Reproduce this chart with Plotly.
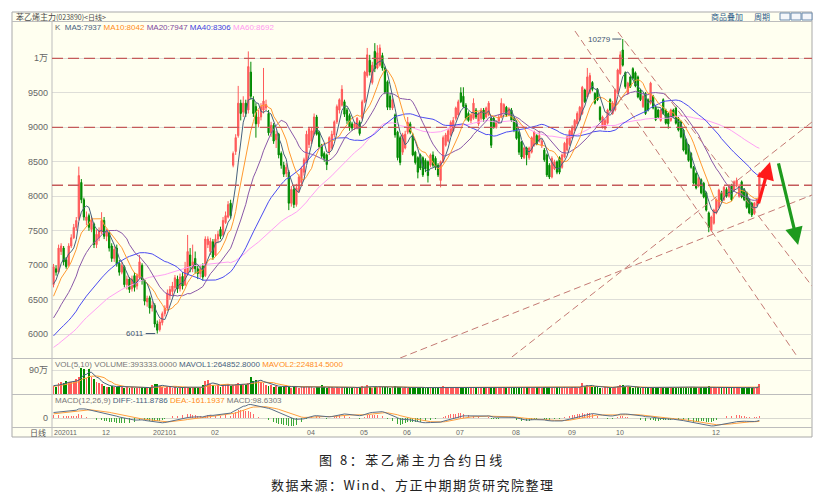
import numpy as np
import pandas as pd
import plotly.graph_objects as go

# ---------------- data ----------------
OPEN = [
6720, 6950, 6900, 7200, 7250, 7080, 7000, 7280, 7400, 7550,
7680, 8200, 7950, 7650, 7720, 7520, 7600, 7300, 7400, 7480,
7650, 7420, 7470, 7280, 7100, 7250, 7030, 6900, 6980, 6720,
6800, 6660, 6850, 6700, 6820, 7000, 6780, 6470, 6530, 6380,
6420, 6150, 6070, 6170, 6300, 6380, 6560, 6620, 6680, 6800,
6660, 6840, 6720, 6880, 7150, 6950, 7100, 6950, 6880, 6990,
6850, 7300, 7200, 7340, 7150, 7380, 7520, 7440, 7620, 7700,
7900, 8450, 8650, 8880, 9350, 9220, 9350, 9250, 9800, 9400,
9300, 9050, 9150, 9250, 9280, 9200, 8920, 9030, 8820, 8900,
8620, 8450, 8330, 8350, 7900, 8100, 7880, 8080, 8200, 8350,
8500, 8750, 8800, 8900, 9150, 8930, 8740, 8620, 8600, 8640,
8700, 8890, 9080, 9250, 9320, 9370, 9250, 9170, 9050, 8990,
8990, 9070, 9130, 9370, 9750, 9970, 9650, 10100, 9860, 9900,
10040, 9860, 9660, 9450, 9280, 9180, 8930, 8850, 8640, 8700,
8930, 9050, 8890, 8640, 8560, 8600, 8560, 8520, 8500, 8450,
8600, 8550, 8450, 8230, 8500, 8740, 8800, 8890, 8950, 9130,
9180, 9500, 9450, 9320, 9200, 9100, 9130, 9250, 9050, 9130,
9250, 9150, 9180, 9130, 9130, 9000, 9080, 9150, 9220, 9290,
9180, 9250, 9130, 9080, 8930, 8790, 8560, 8700, 8560, 8640,
8740, 8880, 8800, 8730, 8670, 8600, 8450, 8280, 8400, 8500,
8560, 8420, 8570, 8670, 8750, 8850, 8960, 9050, 9110, 9200,
9540, 9440, 9500, 9650, 9490, 9550, 9290, 9000, 8980, 9060,
9400, 9200, 9250, 9500, 9780, 10120, 9790, 9490, 9730, 9850,
9790, 9730, 9540, 9300, 9490, 9400, 9350, 9450, 9290, 9250,
9100, 9400, 9250, 9200, 9100, 9250, 9280, 9130, 9080, 8960,
8820, 8740, 8620, 8420, 8330, 8150, 8240, 8190, 8050, 7760,
7510, 7610, 7760, 7840, 8050, 7950, 8100, 8000, 8150, 8090,
8150, 8000, 8210, 8100, 8050, 7950, 7900, 7750, 7870, 7990,
]
HIGH = [
7020, 7000, 7300, 7320, 7280, 7120, 7320, 7450, 7600, 7700,
8430, 8250, 7980, 7780, 7750, 7700, 7620, 7520, 7550, 7770,
7700, 7530, 7500, 7320, 7280, 7300, 7080, 7050, 7000, 6850,
6830, 6850, 6900, 6880, 7150, 7030, 6800, 6560, 6560, 6480,
6450, 6200, 6220, 6330, 6420, 6650, 6700, 6760, 6860, 6850,
6880, 6900, 7050, 7440, 7250, 7300, 7200, 7000, 7000, 7030,
7420, 7420, 7400, 7380, 7450, 7500, 7560, 7700, 7780, 7930,
7950, 8650, 8900, 9600, 9400, 9450, 9400, 10100, 9950, 9450,
9350, 9250, 9350, 9860, 9400, 9250, 9080, 9060, 8950, 8920,
8650, 8500, 8480, 8380, 8150, 8150, 8180, 8320, 8430, 8560,
8950, 9000, 9000, 9200, 9180, 8950, 8760, 8650, 8620, 8870,
8950, 9100, 9330, 9420, 9610, 9400, 9280, 9200, 9080, 9080,
9150, 9100, 9400, 9820, 10150, 10050, 9950, 10220, 10190, 10200,
10080, 9880, 9680, 9480, 9420, 9200, 8950, 8880, 8920, 8950,
9150, 9080, 8920, 8660, 8580, 8620, 8580, 8550, 8520, 8620,
8650, 8580, 8480, 8520, 8880, 8920, 8980, 9100, 9150, 9300,
9400, 9580, 9580, 9350, 9230, 9200, 9420, 9280, 9220, 9280,
9280, 9300, 9380, 9150, 9150, 9100, 9180, 9420, 9350, 9310,
9290, 9280, 9150, 9100, 8950, 8800, 8720, 8720, 8720, 8870,
8950, 8900, 8950, 8830, 8700, 8620, 8480, 8580, 8530, 8520,
8580, 8620, 8790, 8880, 8970, 9030, 9120, 9230, 9310, 9600,
9560, 9860, 9790, 9670, 9510, 9570, 9310, 9170, 9120, 9270,
9420, 9380, 9560, 9850, 10100, 10279, 9810, 9660, 9750, 9870,
9810, 9750, 9560, 9470, 9510, 9420, 9660, 9470, 9310, 9270,
9270, 9420, 9270, 9220, 9270, 9270, 9300, 9150, 9100, 8980,
8840, 8760, 8640, 8440, 8350, 8280, 8260, 8210, 8070, 7780,
7720, 7820, 7970, 8110, 8080, 8150, 8130, 8170, 8180, 8230,
8270, 8180, 8230, 8120, 8070, 7970, 7920, 7920, 7970, 8350,
]
LOW = [
6680, 6850, 6880, 7150, 7000, 6950, 6980, 7250, 7380, 7500,
7650, 7900, 7650, 7580, 7500, 7480, 7250, 7250, 7350, 7450,
7380, 7350, 7200, 7050, 7050, 6980, 6850, 6870, 6680, 6650,
6600, 6620, 6620, 6650, 6800, 6720, 6420, 6400, 6300, 6330,
6100, 6011, 6040, 6130, 6260, 6350, 6500, 6560, 6620, 6600,
6620, 6650, 6700, 6850, 6900, 6900, 6880, 6800, 6820, 6780,
6830, 7250, 7150, 7080, 7130, 7320, 7380, 7420, 7600, 7680,
7680, 8420, 8600, 8850, 9100, 9150, 9150, 9200, 9400, 9150,
8850, 9000, 9100, 9200, 9250, 8880, 8860, 8760, 8700, 8550,
8400, 8280, 8280, 7800, 7850, 7830, 7850, 8050, 8160, 8300,
8480, 8700, 8750, 8880, 8880, 8700, 8550, 8500, 8380, 8600,
8680, 8850, 9050, 9200, 9300, 9150, 9050, 8950, 8950, 8960,
8970, 8880, 9100, 9350, 9720, 9750, 9620, 9800, 9840, 9880,
9820, 9480, 9250, 9250, 9250, 8850, 8520, 8450, 8600, 8680,
8900, 8900, 8580, 8460, 8260, 8380, 8280, 8350, 8200, 8420,
8420, 8380, 8280, 8130, 8480, 8720, 8780, 8870, 8930, 9100,
9150, 9350, 9280, 9100, 9080, 9060, 9110, 9120, 9020, 9100,
9080, 9130, 9160, 8700, 8980, 8980, 9050, 9130, 9200, 9150,
9160, 9080, 8930, 8820, 8600, 8540, 8540, 8450, 8530, 8620,
8720, 8740, 8780, 8700, 8500, 8280, 8250, 8260, 8380, 8320,
8320, 8400, 8550, 8650, 8730, 8830, 8940, 9020, 9090, 9180,
9350, 9420, 9480, 9520, 9330, 9380, 9080, 8980, 8960, 9040,
9230, 9180, 9230, 9480, 9760, 9880, 9560, 9470, 9570, 9690,
9580, 9420, 9380, 9280, 9180, 9230, 9330, 9260, 9090, 9130,
9080, 9180, 9040, 8980, 9080, 9130, 9040, 8940, 8840, 8650,
8600, 8500, 8400, 8170, 8100, 8130, 8030, 7970, 7780, 7480,
7490, 7590, 7740, 7820, 7930, 7930, 7980, 7980, 7930, 8070,
8130, 7980, 7970, 7930, 7820, 7740, 7700, 7730, 7850, 7970,
]
CLOSE = [
6980, 6900, 7250, 7280, 7050, 6980, 7280, 7400, 7550, 7650,
8300, 7950, 7700, 7700, 7550, 7650, 7300, 7450, 7500, 7650,
7420, 7480, 7250, 7100, 7230, 7020, 6900, 7000, 6720, 6800,
6650, 6800, 6680, 6850, 7050, 6780, 6480, 6520, 6380, 6420,
6150, 6060, 6180, 6300, 6380, 6600, 6650, 6700, 6820, 6660,
6830, 6700, 6960, 7200, 6980, 7050, 6950, 6880, 6950, 6830,
7380, 7380, 7350, 7120, 7380, 7450, 7420, 7650, 7720, 7880,
7720, 8620, 8850, 9350, 9200, 9350, 9200, 9880, 9450, 9200,
9050, 9150, 9300, 9380, 9330, 8920, 9030, 8800, 8900, 8600,
8450, 8320, 8420, 7900, 8100, 7880, 8120, 8280, 8400, 8530,
8900, 8980, 8950, 9150, 8900, 8720, 8580, 8550, 8460, 8850,
8900, 9080, 9300, 9400, 9550, 9190, 9100, 8990, 8990, 9050,
9130, 8910, 9370, 9800, 10050, 9800, 9900, 9850, 10080, 10150,
9860, 9510, 9290, 9290, 9400, 8890, 8560, 8490, 8890, 8900,
9070, 8930, 8600, 8490, 8350, 8410, 8310, 8400, 8300, 8600,
8450, 8420, 8310, 8500, 8850, 8890, 8950, 9070, 9100, 9280,
9370, 9370, 9300, 9130, 9100, 9180, 9350, 9150, 9200, 9250,
9120, 9280, 9350, 8740, 9000, 9080, 9150, 9350, 9330, 9180,
9270, 9100, 8960, 8840, 8640, 8570, 8700, 8600, 8700, 8850,
8930, 8760, 8880, 8800, 8530, 8310, 8280, 8550, 8500, 8350,
8350, 8600, 8770, 8860, 8950, 9000, 9100, 9200, 9290, 9580,
9370, 9730, 9750, 9550, 9350, 9400, 9110, 9150, 9100, 9250,
9250, 9350, 9540, 9830, 10050, 9900, 9590, 9640, 9590, 9710,
9600, 9440, 9400, 9450, 9200, 9250, 9640, 9280, 9110, 9150,
9250, 9200, 9060, 9050, 9250, 9150, 9060, 8960, 8860, 8670,
8620, 8520, 8420, 8190, 8120, 8260, 8050, 7990, 7800, 7550,
7700, 7800, 7950, 8090, 7950, 8130, 8000, 8150, 7950, 8210,
8230, 8150, 7990, 7950, 7840, 7760, 7730, 7900, 7950, 8330,
]
# volume in 万手
VOLUME_WAN = [
30, 28,
42, 45, 40, 48, 44, 46, 50, 55,
64,
97, 92,
60,
95,
62, 55,
45, 40, 38,
30, 28, 27, 30, 26, 28, 29,
25, 24, 26, 23, 25, 22, 24, 27, 25, 24, 22, 23,
32, 36, 38, 30,
26, 24, 28, 25, 23, 27, 24, 22, 25, 28, 26,
24, 22, 25, 23, 24,
34, 50, 53, 36, 33,
30, 32, 28, 35, 33, 36, 30, 34, 38, 40, 36, 35, 33,
42, 64,
50, 52, 48, 45, 40,
35, 30, 32, 28, 30,
27, 25, 28, 35, 26, 24, 27, 25, 23, 28, 26, 30,
25, 27, 24, 26, 28, 32, 25, 23, 27, 26, 24, 25,
23, 26, 28, 25, 24, 22, 26, 25, 27, 30, 28, 33,
26, 24, 28, 25, 30, 27, 26, 28, 24, 26, 29, 27,
25, 24, 26, 23, 25, 27, 24, 22, 26, 25, 23, 24,
26, 24, 25, 23, 27, 30, 26, 24, 25, 27, 24, 23,
28, 26, 25, 24, 23, 25, 24, 22, 26, 24, 25, 23,
27, 25, 24, 26, 23, 25, 24, 26, 25, 27, 24, 28,
26, 24, 25, 27, 23, 24, 26, 25, 23, 27, 28, 25,
24, 23, 25, 26, 24, 25, 23, 24, 26, 25, 24, 27,
42, 30, 35, 28, 26, 27, 25, 24, 23, 25, 26, 24,
25, 27, 30, 32, 35, 28, 26, 25, 24, 26, 25, 24,
23, 25, 27, 24, 23, 22, 25, 24, 26, 23, 24, 25,
26, 24, 25, 27, 28, 25, 24, 26, 27, 25, 24, 26,
25, 27, 30, 26, 25, 24, 27, 25, 24, 26, 23, 25,
24, 26, 25, 23, 24, 22, 25, 24, 23, 26, 39.3333,
]
# closes / volumes before the first visible day (needed for the moving averages)
PRE_CLOSE = [
5450,
5500, 5470, 5420, 5380, 5400, 5450, 5480, 5520, 5560, 5530,
5490, 5460, 5440, 5470, 5500, 5520, 5480, 5450, 5500, 5510,
5550, 5600, 5640, 5680, 5660, 5700, 5720, 5690, 5730, 5760,
5740, 5710, 5750, 5780, 5760, 5720, 5740, 5770, 5800, 5830,
5850, 5880, 5900, 5870, 5910, 5940, 5960, 5930, 5980, 6020,
6150, 6280, 6380, 6480, 6570, 6620, 6700, 6650, 6710,
]
PRE_VOLUME_WAN = [22, 25, 24, 28, 30, 27, 32, 35, 33]

DATE_TICK_IDX = [0, 19, 39, 62, 100, 121, 138, 159, 181, 203, 222, 260]
DATE_TICK_TEXT = ["202011", "12", "202101", "02", "04", "05", "06", "07", "08", "09", "10", "12"]
PRICE_TICKS = [6000, 6500, 7000, 7500, 8000, 8500, 9000, 9500, 10000]
PRICE_TICK_TEXT = ["6000", "6500", "7000", "7500", "8000", "8500", "9000", "9500", "1万"]
LEVELS = [10000, 9000, 8160]
TREND_LINES = [
    ((206.1, 10396), (294.3, 5659)),
    ((223.1, 10381), (299.8, 6699)),
    ((181.2, 5672), (299.8, 9077)),
    ((137.0, 5657), (299.8, 8019)),
]
UP_ARROW = ((278.5, 7875), (283.2, 8498))
DOWN_ARROW = ((286.4, 8498), (294.3, 7295))
HIGH_LABEL = (225, 10279)
LOW_LABEL = (41, 6011)

n = len(CLOSE)
for name, arr in [("OPEN", OPEN), ("HIGH", HIGH), ("LOW", LOW), ("VOLUME_WAN", VOLUME_WAN)]:
    if len(arr) != n:
        raise ValueError(f"{name} has {len(arr)} values, CLOSE has {n}")

# ---------------- derived indicators ----------------
idx = np.arange(n)
pre_n = len(PRE_CLOSE)
all_close = pd.Series(PRE_CLOSE + CLOSE, dtype=float)
ma = {k: all_close.rolling(k).mean().iloc[pre_n:].to_numpy() for k in (5, 10, 20, 40, 60)}
ema12 = all_close.ewm(span=12, adjust=False).mean()
ema26 = all_close.ewm(span=26, adjust=False).mean()
diff = ema12 - ema26
dea = diff.ewm(span=9, adjust=False).mean()
hist = 2 * (diff - dea)
diff_v = diff.iloc[pre_n:].to_numpy()
dea_v = dea.iloc[pre_n:].to_numpy()
hist_v = hist.iloc[pre_n:].to_numpy()

vol = np.array(VOLUME_WAN, dtype=float) * 1e4
all_vol = pd.Series(list(np.array(PRE_VOLUME_WAN) * 1e4) + list(vol))
pv = len(PRE_VOLUME_WAN)
mavol5 = all_vol.rolling(5).mean().iloc[pv:].to_numpy()
mavol10 = all_vol.rolling(10).mean().iloc[pv:].to_numpy()

up = np.array(CLOSE) >= np.array(OPEN)

# ---------------- styling ----------------
BG = "#FFFFF0"
RED = "#FF5A5A"
GREEN = "#008A00"
C_MA5 = "#46617E"
C_MA10 = "#FF9A30"
C_MA20 = "#8A58A8"
C_MA40 = "#4B4BF0"
C_MA60 = "#FFA0F5"
NUMF = "Liberation Sans, Noto Sans CJK SC"
CJK = "Noto Sans CJK SC"

W, H = 816, 495
L, R, T, B = 52, 812, 22, 427


def PX(x):
    return (x - L) / (R - L)


def PY(y):
    return (B - y) / (B - T)


fig = go.Figure()

fig.add_trace(go.Candlestick(
    x=idx, open=OPEN, high=HIGH, low=LOW, close=CLOSE,
    increasing=dict(line=dict(color=RED, width=1), fillcolor=RED),
    decreasing=dict(line=dict(color=GREEN, width=1), fillcolor=GREEN),
    whiskerwidth=0, hoverinfo="skip", showlegend=False, xaxis="x", yaxis="y"))

for k, c in [(60, C_MA60), (40, C_MA40), (20, C_MA20), (10, C_MA10), (5, C_MA5)]:
    fig.add_trace(go.Scatter(x=idx, y=ma[k], mode="lines", line=dict(color=c, width=1),
                             hoverinfo="skip", showlegend=False, xaxis="x", yaxis="y"))

fig.add_trace(go.Bar(x=idx, y=vol, marker=dict(color=np.where(up, RED, GREEN), line=dict(width=0)),
                     width=0.72, hoverinfo="skip", showlegend=False, xaxis="x", yaxis="y2"))
fig.add_trace(go.Scatter(x=idx, y=mavol10, mode="lines", line=dict(color=C_MA10, width=1),
                         hoverinfo="skip", showlegend=False, xaxis="x", yaxis="y2"))
fig.add_trace(go.Scatter(x=idx, y=mavol5, mode="lines", line=dict(color=C_MA5, width=1),
                         hoverinfo="skip", showlegend=False, xaxis="x", yaxis="y2"))

fig.add_trace(go.Bar(x=idx, y=hist_v, marker=dict(color=np.where(hist_v >= 0, "#FF6A6A", "#3AA83A"), line=dict(width=0)),
                     width=0.3, hoverinfo="skip", showlegend=False, xaxis="x", yaxis="y3"))
fig.add_trace(go.Scatter(x=idx, y=dea_v, mode="lines", line=dict(color="#FFA040", width=1),
                         hoverinfo="skip", showlegend=False, xaxis="x", yaxis="y3"))
fig.add_trace(go.Scatter(x=idx, y=diff_v, mode="lines", line=dict(color="#5A6E88", width=1),
                         hoverinfo="skip", showlegend=False, xaxis="x", yaxis="y3"))

peak = float(max(diff_v.max(), dea_v.max(), hist_v.max()))
m_hi = peak * 24 / 13.5
m_lo = -m_hi * 9 / 24

shapes = []
# outer frame and separators
shapes.append(dict(type="rect", xref="paper", yref="paper", x0=PX(12), x1=PX(812), y0=PY(437), y1=PY(12),
                   fillcolor=BG, line=dict(color="#A9A9A9", width=1), layer="below"))
for yy in (21.5, 358.5, 394.5, 427.5):
    shapes.append(dict(type="line", xref="paper", yref="paper", x0=PX(12), x1=PX(812), y0=PY(yy), y1=PY(yy),
                       line=dict(color="#BDBDBD", width=1), layer="above"))
shapes.append(dict(type="line", xref="paper", yref="paper", x0=PX(52), x1=PX(52), y0=PY(21.5), y1=PY(437),
                   line=dict(color="#BDBDBD", width=1), layer="above"))
# header buttons
for bx in ((780, 790), (791, 801), (802, 812)):
    shapes.append(dict(type="rect", xref="paper", yref="paper", x0=PX(bx[0]), x1=PX(bx[1]), y0=PY(20), y1=PY(13),
                       line=dict(color="#6C8CB0", width=1), fillcolor="#F4F6FA"))
# horizontal key levels
for lv in LEVELS:
    shapes.append(dict(type="line", xref="paper", yref="y", x0=0, x1=1, y0=lv, y1=lv,
                       line=dict(color="#C45A5A", width=1.3, dash="11px,5px")))
# trend lines
for (x0, y0), (x1, y1) in TREND_LINES:
    shapes.append(dict(type="line", xref="x", yref="y", x0=x0, y0=y0, x1=x1, y1=y1,
                       line=dict(color="#C47A74", width=1, dash="7px,4px")))

ann = []


def span(t, c):
    return f"<span style='color:{c}'>{t}</span>"


ann.append(dict(xref="paper", yref="paper", x=PX(14), y=PY(16.5), xanchor="left", yanchor="middle",
                text="苯乙烯主力<span style='font-size:7px'>(023890)&lt;日线&gt;</span>", showarrow=False,
                font=dict(family=CJK, size=8, color="#4A4A4A")))
ann.append(dict(xref="paper", yref="paper", x=PX(709), y=PY(16.5), xanchor="left", yanchor="middle",
                text="商品叠加", showarrow=False, font=dict(family=CJK, size=8, color="#2E5C8A")))
ann.append(dict(xref="paper", yref="paper", x=PX(752), y=PY(16.5), xanchor="left", yanchor="middle",
                text="周期", showarrow=False, font=dict(family=CJK, size=8, color="#2E5C8A")))
ann.append(dict(xref="paper", yref="paper", x=PX(53), y=PY(27.5), xanchor="left", yanchor="middle",
                text=span("K", "#666666") + "  " + span("MA5:7937", C_MA5) + " " + span("MA10:8042", "#FF8C1A")
                + " " + span("MA20:7947", "#7E4A9E") + " " + span("MA40:8306", "#4040E0") + " "
                + span("MA60:8692", "#FF99F0"),
                showarrow=False, font=dict(family=NUMF, size=8)))
ann.append(dict(xref="paper", yref="paper", x=PX(53), y=PY(364), xanchor="left", yanchor="middle",
                text=span("VOL(5,10)", "#777777") + " " + span("VOLUME:393333.0000", "#777777") + " "
                + span("MAVOL1:264852.8000", C_MA5) + " " + span("MAVOL2:224814.5000", "#FF8C1A"),
                showarrow=False, font=dict(family=NUMF, size=8)))
ann.append(dict(xref="paper", yref="paper", x=PX(53), y=PY(400), xanchor="left", yanchor="middle",
                text=span("MACD(12,26,9)", "#777777") + " " + span("DIFF:-111.8786", C_MA5) + " "
                + span("DEA:-161.1937", "#FF8C1A") + " " + span("MACD:98.6303", "#777777"),
                showarrow=False, font=dict(family=NUMF, size=8)))
# date labels
for i, t in zip(DATE_TICK_IDX, DATE_TICK_TEXT):
    ann.append(dict(xref="x", yref="paper", x=i - 0.6, y=PY(432), xanchor="left", yanchor="middle",
                    text=t, showarrow=False, font=dict(family=NUMF, size=7, color="#666666")))
ann.append(dict(xref="paper", yref="paper", x=PX(48), y=PY(432), xanchor="right", yanchor="middle",
                text="日线", showarrow=False, font=dict(family=CJK, size=8, color="#555555")))
# extreme labels
ann.append(dict(xref="x", yref="y", x=HIGH_LABEL[0] - 0.6, y=HIGH_LABEL[1], text=str(HIGH_LABEL[1]),
                showarrow=True, arrowhead=0, arrowwidth=1, arrowcolor="#3E5570", ax=-22, ay=0,
                font=dict(family=NUMF, size=8, color="#3E5570")))
ann.append(dict(xref="x", yref="y", x=LOW_LABEL[0] - 0.8, y=LOW_LABEL[1], text=str(LOW_LABEL[1]),
                showarrow=True, arrowhead=0, arrowwidth=1, arrowcolor="#3E5570", ax=-20, ay=0,
                font=dict(family=NUMF, size=8, color="#3E5570")))
# forecast arrows
for (tail, head, col) in [(UP_ARROW[0], UP_ARROW[1], "#FF1A1A"), (DOWN_ARROW[0], DOWN_ARROW[1], "#1E9A1E")]:
    ann.append(dict(xref="x", yref="y", axref="x", ayref="y", x=head[0], y=head[1], ax=tail[0], ay=tail[1],
                    text="", showarrow=True, arrowhead=2, arrowsize=1.1, arrowwidth=3.2, arrowcolor=col))
# caption
ann.append(dict(xref="paper", yref="paper", x=PX(412), y=PY(459), xanchor="center", yanchor="middle",
                text="<span style='letter-spacing:2.5px'>图 8：苯乙烯主力合约日线</span>", showarrow=False,
                font=dict(family=CJK, size=13, color="#222222")))
ann.append(dict(xref="paper", yref="paper", x=PX(412), y=PY(484), xanchor="center", yanchor="middle",
                text="<span style='letter-spacing:1.5px'>数据来源：Wind、方正中期期货研究院整理</span>", showarrow=False,
                font=dict(family=CJK, size=13, color="#222222")))

axis_font = dict(family=NUMF, size=9, color="#666666")
fig.update_layout(
    width=W, height=H,
    margin=dict(l=L, r=W - R, t=T, b=H - B),
    paper_bgcolor="white", plot_bgcolor=BG,
    showlegend=False, hovermode=False, bargap=0,
    xaxis=dict(range=[-0.6, 299.8], showgrid=False, zeroline=False, showticklabels=False,
               rangeslider=dict(visible=False), anchor="y3", fixedrange=True),
    yaxis=dict(domain=[(B - 358) / (B - T), 1], range=[5657, 10526], tickvals=PRICE_TICKS,
               ticktext=PRICE_TICK_TEXT, gridcolor="#DEDED8", zeroline=False, tickfont=axis_font,
               ticks="", ticklabelstandoff=3, fixedrange=True),
    yaxis2=dict(domain=[(B - 394) / (B - T), (B - 359) / (B - T)], range=[0, 1312500], tickvals=[900000],
                ticktext=["90万"], gridcolor="#DEDED8", zeroline=False, tickfont=axis_font, ticks="",
                ticklabelstandoff=3, fixedrange=True),
    yaxis3=dict(domain=[0, (B - 394) / (B - T)], range=[m_lo, m_hi], tickvals=[0], ticktext=["0"],
                gridcolor="#D8D8D0", zeroline=False, tickfont=axis_font, ticks="", ticklabelstandoff=3,
                fixedrange=True),
    shapes=shapes, annotations=ann,
)

fig.write_html("out.html", config={"displayModeBar": False, "staticPlot": True},
               post_script="document.body.style.margin='0';document.body.style.overflow='hidden';")
